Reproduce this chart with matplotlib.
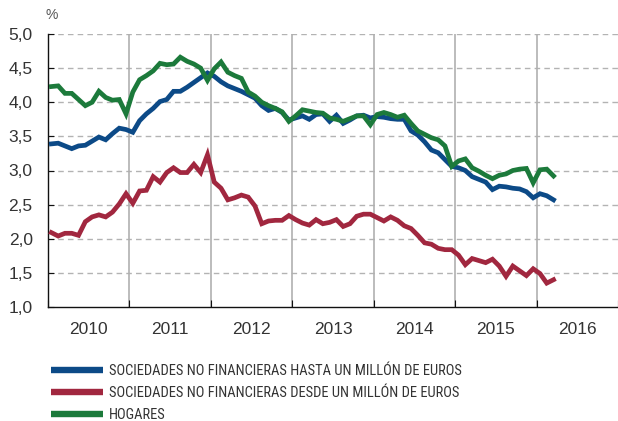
import matplotlib
matplotlib.use("Agg")
import matplotlib.pyplot as plt
from matplotlib.lines import Line2D
from matplotlib import font_manager
import pandas as pd
import numpy as np

start_month = "2010-01"
n_months = 75

blue = [3.39, 3.40, 3.36, 3.32, 3.36, 3.37, 3.43, 3.49, 3.45, 3.54, 3.62, 3.60,
        3.56, 3.73, 3.83, 3.91, 4.01, 4.04, 4.16, 4.16, 4.22, 4.29, 4.36, 4.43,
        4.38, 4.30, 4.24, 4.20, 4.16, 4.11, 4.06, 3.95, 3.88, 3.91, 3.85, 3.74,
        3.77, 3.80, 3.75, 3.82, 3.83, 3.72, 3.81, 3.69, 3.74, 3.80, 3.81, 3.77,
        3.79, 3.78, 3.76, 3.75, 3.75, 3.58, 3.52, 3.42, 3.30, 3.26, 3.16, 3.06,
        3.04, 3.00, 2.91, 2.87, 2.83, 2.72, 2.77, 2.76, 2.74, 2.73, 2.69, 2.60,
        2.66, 2.63, 2.57]
red = [2.09, 2.04, 2.08, 2.08, 2.05, 2.25, 2.32, 2.35, 2.32, 2.39, 2.51, 2.66,
       2.52, 2.70, 2.71, 2.91, 2.83, 2.97, 3.04, 2.97, 2.97, 3.09, 2.97, 3.23,
       2.83, 2.74, 2.57, 2.60, 2.64, 2.61, 2.48, 2.22, 2.26, 2.27, 2.27, 2.34,
       2.28, 2.23, 2.20, 2.28, 2.22, 2.24, 2.28, 2.18, 2.22, 2.33, 2.36, 2.36,
       2.31, 2.26, 2.32, 2.27, 2.19, 2.15, 2.05, 1.94, 1.92, 1.86, 1.84, 1.84,
       1.76, 1.62, 1.71, 1.68, 1.65, 1.70, 1.60, 1.45, 1.60, 1.53, 1.46, 1.56,
       1.49, 1.35, 1.40]
green = [4.23, 4.24, 4.13, 4.13, 4.04, 3.95, 4.00, 4.16, 4.07, 4.03, 4.04, 3.83,
         4.15, 4.33, 4.39, 4.46, 4.57, 4.55, 4.56, 4.66, 4.60, 4.56, 4.50, 4.32,
         4.49, 4.59, 4.44, 4.39, 4.35, 4.15, 4.09, 4.00, 3.95, 3.91, 3.86, 3.72,
         3.80, 3.89, 3.87, 3.85, 3.84, 3.77, 3.75, 3.72, 3.76, 3.80, 3.80, 3.67,
         3.82, 3.85, 3.82, 3.78, 3.81, 3.69, 3.58, 3.53, 3.48, 3.45, 3.36, 3.06,
         3.14, 3.17, 3.04, 2.99, 2.93, 2.88, 2.93, 2.95, 3.00, 3.02, 3.03, 2.82,
         3.01, 3.02, 2.92]

series_labels = ["SOCIEDADES NO FINANCIERAS HASTA UN MILLÓN DE EUROS",
                 "SOCIEDADES NO FINANCIERAS DESDE UN MILLÓN DE EUROS",
                 "HOGARES"]
colors = ["#0c4a87", "#a1273f", "#1c7a3b"]
years = [2010, 2011, 2012, 2013, 2014, 2015, 2016]
yticks = [1.0, 1.5, 2.0, 2.5, 3.0, 3.5, 4.0, 4.5, 5.0]
ytick_labels = ["1,0", "1,5", "2,0", "2,5", "3,0", "3,5", "4,0", "4,5", "5,0"]

dates = pd.date_range(start_month, periods=n_months, freq="MS")
x = dates.year + (dates.month - 0.5) / 12.0

plt.rcParams['font.family'] = ['Liberation Sans', 'DejaVu Sans']
text_color = "#333333"

# pick a narrow/condensed font for the legend if one is installed
legend_font_path = None
pref = ["Liberation Sans Narrow", "Roboto Condensed", "Open Sans Condensed", "DejaVu Sans"]
for fam in pref:
    for f in font_manager.fontManager.ttflist:
        fname = f.fname.lower()
        is_narrow = ("narrow" in fname or "condensed" in fname or
                     f.stretch in ("condensed", "semi-condensed"))
        if f.name == fam and is_narrow and f.weight in (400, "normal", "regular") \
                and f.style == "normal" and "bold" not in fname and "oblique" not in fname:
            legend_font_path = f.fname
            break
    if legend_font_path:
        break

fig = plt.figure(figsize=(6.18, 4.21), dpi=100)
W, H = 618, 421
ax = fig.add_axes([48 / W, 1 - 307 / H, (618 - 48) / W, (307 - 34) / H])

ax.set_xlim(2010, 2017)
ax.set_ylim(1.0, 5.0)

for yv in yticks[1:]:
    ax.axhline(yv, color="#b3b3b3", lw=1.0, ls=(0, (4, 3)), zorder=1)
for yr in years[1:]:
    ax.axvline(yr, color="#b0b0b0", lw=1.2, zorder=1)

for vals, c in zip([blue, red, green], colors):
    ax.plot(x, vals, color=c, lw=3.4, zorder=3, solid_joinstyle="miter")

for s in ["top", "right"]:
    ax.spines[s].set_visible(False)
for s in ["left", "bottom"]:
    ax.spines[s].set_color("#111111")
    ax.spines[s].set_linewidth(1.0)

ax.set_yticks(yticks)
ax.set_yticklabels(ytick_labels)
ax.tick_params(axis="y", direction="in", length=4, pad=11, labelsize=12.5, colors="#111111", labelcolor=text_color)

ax.set_xticks(years + [2017])
ax.set_xticklabels([])
ax.set_xticks([y + 0.5 for y in years], minor=True)
ax.set_xticklabels([str(y) for y in years], minor=True)
ax.tick_params(axis="x", which="major", direction="in", length=5, colors="#111111")
ax.tick_params(axis="x", which="minor", length=0, pad=11, labelsize=12.5, labelcolor=text_color)

fig.text(52 / W, 1 - 15 / H, "%", ha="center", va="center", fontsize=10, color="#555555")


def make_prop(size):
    if legend_font_path:
        return font_manager.FontProperties(fname=legend_font_path, size=size)
    return font_manager.FontProperties(family=["Liberation Sans", "DejaVu Sans"], size=size)


def make_legend(size):
    handles = [Line2D([0], [0], color=c, lw=4.6, solid_capstyle="butt") for c in colors]
    fs_px = size * 100 / 72
    lg = fig.legend(handles, series_labels, loc="upper left",
                    bbox_to_anchor=(39 / W, 1 - 352 / H), frameon=False,
                    handlelength=52 / fs_px, handletextpad=6 / fs_px,
                    labelspacing=(22.5 - fs_px) / fs_px, borderpad=0.3,
                    prop=make_prop(size))
    for t in lg.get_texts():
        t.set_color(text_color)
    return lg


size = 10.0
leg = make_legend(size)
fig.canvas.draw()
w = leg.get_texts()[0].get_window_extent().width
leg.remove()
size = size * 353.0 / w
leg = make_legend(size)

fig.savefig("out.png", dpi=100)
